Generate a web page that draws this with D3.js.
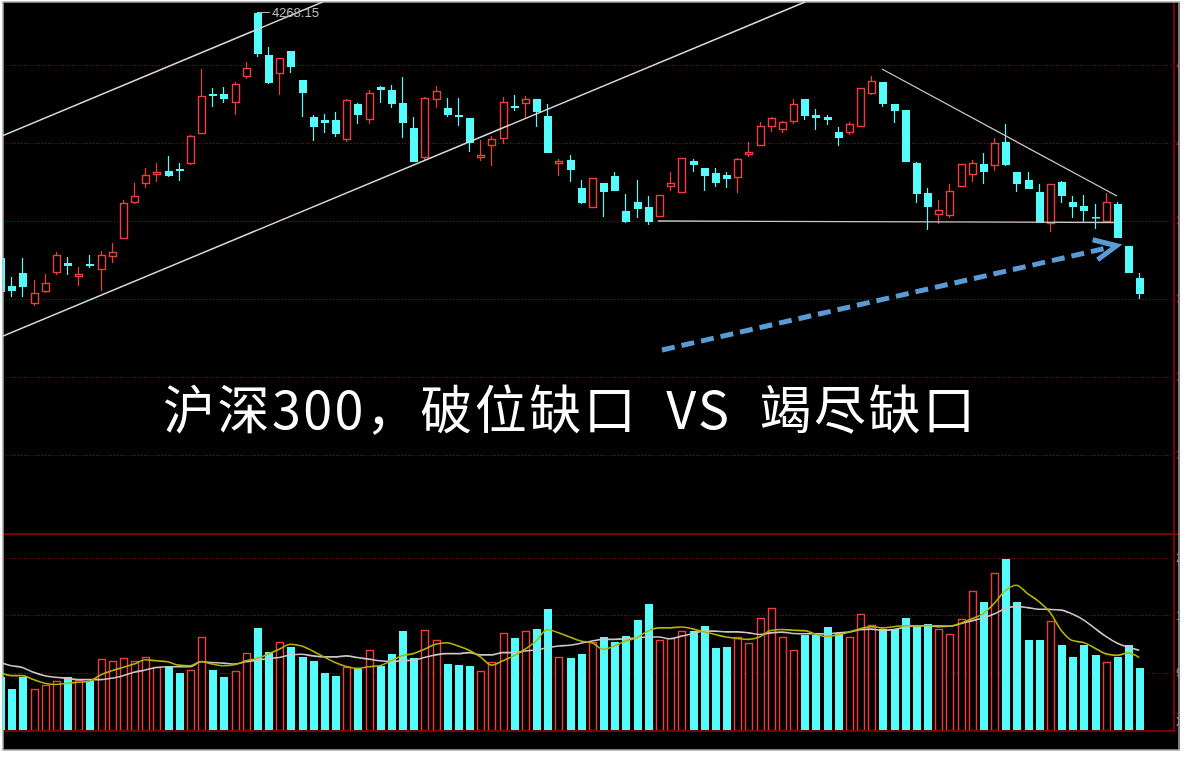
<!DOCTYPE html>
<html><head><meta charset="utf-8">
<script src="https://cdn.jsdelivr.net/npm/d3@7"></script>
<style>html,body{margin:0;padding:0;background:#fff;} svg{display:block}</style>
</head><body>
<svg id="c" width="1188" height="757"></svg>
<script>
// ---------- DATA ----------
const opens = [3905.4,3864.1,3883.3,3839.1,3856.7,3884.8,3898.0,3878.9,3896.6,3889.2,
3908.4,3934.9,3988.0,4016.0,4030.0,4033.7,4036.6,4045.5,4089.7,4147.2,
4147.2,4135.4,4173.7,4266.6,4204.7,4178.2,4210.6,4167.9,4113.3,4108.9,
4108.9,4080.9,4132.5,4110.3,4157.5,4153.1,4133.9,4097.1,4054.3,4139.8,
4126.6,4116.2,4111.8,4054.3,4072.0,4082.3,4129.5,4133.9,4139.8,4114.8,
4045.5,4049.9,4008.6,3980.6,4016.0,4026.3,3974.7,3988.0,3980.6,3967.3,
4011.6,4002.7,4048.4,4038.1,4030.7,4027.8,4024.8,4058.7,4072.0,4100.0,
4095.6,4107.4,4139.8,4116.2,4113.3,4091.2,4091.2,4100.0,4148.7,4164.9,
4132.5,4123.6,4045.5,4001.3,3970.3,3968.8,4011.6,4029.3,4044.0,4042.5,
4076.4,4032.2,4020.4,4002.7,3957.0,4017.5,3988.0,3982.1,3965.9,3960.0,
3985.0,3923.1,3875.9];
const highs = [3909.8,3877.4,3905.4,3873.0,3881.8,3914.3,3906.9,3892.1,3909.8,3915.7,
3927.5,3990.9,4016.0,4038.1,4045.5,4055.8,4045.5,4086.8,4184.1,4156.1,
4157.5,4164.9,4194.4,4268.15,4216.5,4200.3,4210.6,4167.9,4116.2,4117.7,
4120.7,4139.8,4133.9,4153.1,4159.0,4160.5,4172.3,4113.3,4142.8,4159.0,
4141.3,4141.3,4111.8,4079.4,4085.3,4142.8,4145.7,4144.3,4139.8,4132.5,
4051.4,4057.3,4020.4,4023.4,4016.0,4032.2,3999.8,4020.4,3996.8,3998.3,
4032.2,4052.8,4051.4,4038.1,4038.1,4032.2,4052.8,4076.4,4105.9,4113.3,
4107.4,4139.8,4139.8,4125.1,4116.2,4098.6,4105.9,4156.1,4173.7,4164.9,
4132.5,4123.6,4046.9,4008.6,3990.9,4014.5,4044.0,4049.9,4060.2,4082.3,
4103.0,4032.2,4032.2,4014.5,4014.5,4018.9,3996.8,3998.3,3985.0,4001.3,
3988.0,3923.1,3883.3];
const lows = [3850.9,3847.9,3847.9,3834.6,3853.8,3880.3,3880.3,3864.1,3890.7,3856.7,
3898.0,3933.4,3985.0,4008.6,4017.5,4024.8,4018.9,4042.5,4089.7,4128.0,
4133.9,4116.2,4169.3,4201.8,4162.0,4145.7,4178.2,4113.3,4077.9,4089.7,
4083.8,4076.4,4103.0,4103.0,4133.9,4126.6,4082.3,4046.9,4049.9,4126.6,
4113.3,4100.0,4061.7,4048.4,4041.0,4073.5,4122.1,4111.8,4098.6,4060.2,
4026.3,4017.5,3985.0,3980.6,3965.9,4004.2,3957.0,3964.4,3954.1,3967.3,
4004.2,4002.7,4032.2,4004.2,4010.1,4008.6,4001.3,4054.3,4070.5,4091.2,
4089.7,4103.0,4108.9,4094.1,4101.5,4070.5,4086.8,4100.0,4145.7,4128.0,
4104.4,4046.9,3986.5,3946.7,3955.5,3964.4,4011.6,4017.5,4014.5,4033.7,
4041.0,4002.7,4007.2,3957.0,3943.7,3986.5,3964.4,3958.5,3948.2,3960.0,
3934.9,3883.3,3845.0];
const closes = [3855.3,3856.7,3862.7,3853.8,3868.5,3909.8,3893.6,3881.8,3893.6,3909.8,
3914.3,3986.5,3996.8,4027.8,4032.2,4026.3,4033.7,4085.3,4144.3,4144.3,
4139.8,4162.0,4185.5,4206.2,4163.4,4200.3,4187.0,4148.7,4098.6,4104.4,
4088.2,4138.4,4116.2,4148.7,4153.1,4132.5,4104.4,4046.9,4141.3,4151.6,
4116.2,4113.3,4075.0,4057.3,4080.9,4135.4,4126.6,4139.8,4120.7,4060.2,
4048.4,4035.1,3986.5,4023.4,4002.7,4004.2,3958.5,3977.7,3958.5,3998.3,
4016.0,4052.8,4042.5,4026.3,4016.0,4021.9,4051.4,4061.7,4100.0,4111.8,
4105.9,4132.5,4114.8,4111.8,4108.9,4082.3,4103.0,4156.1,4166.4,4132.5,
4122.1,4046.9,3999.8,3980.6,3976.2,4004.2,4044.0,4045.5,4032.2,4075.0,
4042.5,4014.5,4007.2,3957.0,4014.5,3996.8,3980.6,3974.7,3964.4,3988.0,
3934.9,3883.3,3852.3];
const volumes = [827,647,827,647,714,765,838,787,776,1122,
1086,1137,1086,1148,993,993,895,942,1459,942,
827,931,1206,1603,1226,1381,1308,1148,1086,895,
843,993,957,1257,1009,1190,1552,1137,1567,1412,
1035,1013,998,920,1075,1516,1448,1552,1587,1898,
1148,1137,1199,1381,1459,1381,1474,1722,1982,1412,
1438,1552,1552,1640,1293,1308,1459,1361,1758,1913,
1459,1257,1490,1490,1618,1525,1459,1826,1645,1587,
1587,1758,1640,1671,1587,1500,1743,2188,2002,2472,
2680,2002,1412,1412,1707,1330,1153,1330,1175,1060,
1153,1334,967];
const volMA5 = [905,853,853,791,734,714,734,749,765,864,
931,982,1035,1102,1086,1071,1019,1009,1075,1035,
1009,1024,1086,1122,1190,1268,1345,1319,1241,1148,
1060,998,967,993,1009,1086,1164,1199,1268,1345,
1370,1319,1252,1148,1019,1086,1164,1268,1397,1578,
1525,1459,1397,1370,1268,1319,1397,1448,1552,1603,
1603,1618,1587,1541,1500,1459,1438,1423,1459,1563,
1578,1567,1560,1505,1466,1497,1536,1590,1622,1603,
1622,1637,1634,1640,1636,1632,1676,1746,1823,1986,
2188,2273,2141,2017,1847,1567,1404,1373,1288,1195,
1172,1210,1137];
const volMA10 = [1060,1009,982,905,853,827,812,791,791,791,
812,853,905,942,982,993,993,993,1071,1060,
1050,1035,1071,1097,1122,1137,1179,1190,1164,1148,
1148,1164,1137,1113,1086,1075,1086,1097,1137,1179,
1199,1199,1215,1179,1179,1215,1215,1241,1257,1293,
1319,1330,1361,1397,1423,1423,1432,1448,1459,1459,
1432,1474,1510,1552,1552,1541,1541,1525,1500,1525,
1536,1516,1510,1510,1508,1525,1539,1573,1584,1563,
1575,1614,1634,1636,1623,1628,1667,1713,1757,1820,
1904,1940,1921,1896,1893,1882,1820,1729,1598,1469,
1365,1299,1252];
const priceTicks = [4190, 4075, 3960, 3845, 3730, 3615];
const volTicks = [900, 1800, 2700];
const peakLabel = "4268.15";
const peakIndex = 23;
const titleText = "沪深300，破位缺口 VS 竭尽缺口";
// trend lines as [index, price] pairs
const channelUpper = [[0.27, 4085.9], [28.92, 4283.1]];
const channelLower = [[0.27, 3790.4], [72.07, 4282.9]];
const triangleTop = [[78.96, 4184.1], [100.0, 3996.8]];
const supportLine = [[58.9, 3960.0], [99.9, 3957.8]];
const arrowPath = [[59.27, 3769.8], [99.97, 3923.5]];

// ---------- SETUP ----------
const svg = d3.select('#c');
const L = 3, R = 1173, T = 2, PB = 533, VT = 534, VB = 730, B = 750;
const n = opens.length;
const xs = d3.scaleLinear().domain([0, 102]).range([0, 1139.3]);
const ys = d3.scaleLinear().domain([3615, 4190]).range([455, 65]);
const vs = d3.scaleLinear().domain([0, 2700]).range([730, 558]);
const RED = '#f03c3c', CYAN = '#54fcfc', GRID = '#9a0000', SOLID = '#7a0000';

svg.append('rect').attr('x', 0).attr('y', 0).attr('width', 1188).attr('height', 757).attr('fill', '#fff');
svg.append('rect').attr('x', L).attr('y', T).attr('width', 1180 - L).attr('height', B - T).attr('fill', '#000');

const defs = svg.append('defs');
defs.append('clipPath').attr('id', 'pclip').append('rect').attr('x', L).attr('y', T).attr('width', R - L).attr('height', PB - T);
defs.append('clipPath').attr('id', 'vclip').append('rect').attr('x', L).attr('y', VT).attr('width', R - L).attr('height', VB - VT);
defs.append('clipPath').attr('id', 'aclip').append('rect').attr('x', R).attr('y', T).attr('width', 1179 - R).attr('height', B - T);

// gridlines via axes
const pg = svg.append('g').attr('transform', `translate(${L},0)`)
  .call(d3.axisRight(ys).tickValues(priceTicks).tickSize(R - L).tickFormat(''));
pg.select('.domain').remove();
pg.selectAll('line').attr('stroke', GRID).attr('stroke-dasharray', '1,2').attr('shape-rendering', 'crispEdges');
const vg = svg.append('g').attr('transform', `translate(${L},0)`)
  .call(d3.axisRight(vs).tickValues(volTicks).tickSize(R - L).tickFormat(''));
vg.select('.domain').remove();
vg.selectAll('line').attr('stroke', GRID).attr('stroke-dasharray', '1,2').attr('shape-rendering', 'crispEdges');

// solid frame lines
const fr = svg.append('g').attr('shape-rendering', 'crispEdges');
fr.append('line').attr('x1', L).attr('x2', 1180).attr('y1', PB + 0.5).attr('y2', PB + 0.5).attr('stroke', SOLID).attr('stroke-width', 2);
fr.append('line').attr('x1', L).attr('x2', R).attr('y1', VB + 0.5).attr('y2', VB + 0.5).attr('stroke', SOLID).attr('stroke-width', 2);
fr.append('line').attr('x1', R + 0.5).attr('x2', R + 0.5).attr('y1', T).attr('y2', VB + 2).attr('stroke', SOLID).attr('stroke-width', 2);

// right axis labels (narrow strip, clipped like the reference)
const ag = svg.append('g').attr('clip-path', 'url(#aclip)');
const pa = ag.append('g').attr('transform', `translate(${R},0)`)
  .call(d3.axisRight(ys).tickValues(priceTicks).tickSize(0).tickPadding(3).tickFormat(d3.format('.0f')));
pa.select('.domain').remove();
pa.selectAll('text').attr('fill', '#b02020').attr('font-family', 'Liberation Sans, Arial').attr('font-size', 12);
const va = ag.append('g').attr('transform', `translate(${R},0)`)
  .call(d3.axisRight(vs).tickValues(volTicks).tickSize(0).tickPadding(3).tickFormat(d3.format('.0f')));
va.select('.domain').remove();
va.selectAll('text').attr('fill', '#8a8aa0').attr('font-family', 'Liberation Sans, Arial').attr('font-size', 12);
ag.append('rect').attr('x', R + 1).attr('y', 713).attr('width', 12).attr('height', 17).attr('fill', 'none').attr('stroke', SOLID);
ag.append('text').attr('x', R + 3).attr('y', 726).attr('fill', '#a0a0a0').attr('font-family', 'Liberation Sans, Arial').attr('font-size', 12).text('X10');

// outer border gray
const bd = svg.append('g').attr('fill', 'none').attr('stroke', '#a8a8a8').attr('stroke-width', 1.5);
bd.append('rect').attr('x', L).attr('y', T).attr('width', 1179 - L).attr('height', B - T);

// ---------- CANDLES ----------
const idx = d3.range(n);
const up = i => closes[i] >= opens[i];
const cg = svg.append('g').attr('clip-path', 'url(#pclip)');
idx.forEach(i => {
  const c = Math.round(xs(i));          // integer pixel column of candle center
  const col = up(i) ? RED : CYAN;
  const top = Math.round(ys(Math.max(opens[i], closes[i])));
  const bot = Math.round(ys(Math.min(opens[i], closes[i])));
  cg.append('line').attr('x1', c + 0.5).attr('x2', c + 0.5)
    .attr('y1', Math.round(ys(highs[i]))).attr('y2', Math.round(ys(lows[i])))
    .attr('stroke', col).attr('stroke-width', 1.2);
  if (up(i)) {
    cg.append('rect').attr('x', c - 3 + 0.5).attr('y', top + 0.5).attr('width', 7).attr('height', Math.max(1, bot - top))
      .attr('fill', '#000').attr('stroke', col).attr('stroke-width', 1.4);
  } else {
    cg.append('rect').attr('x', c - 3).attr('y', top).attr('width', 8).attr('height', Math.max(1.5, bot - top)).attr('fill', col);
  }
});

// ---------- VOLUME ----------
const vgBars = svg.append('g').attr('clip-path', 'url(#vclip)');
idx.forEach(i => {
  const c = Math.round(xs(i));
  const y = Math.round(vs(volumes[i]));
  if (up(i)) {
    vgBars.append('rect').attr('x', c - 3 + 0.5).attr('y', y + 0.5).attr('width', 7).attr('height', VB - y)
      .attr('fill', '#000').attr('stroke', RED).attr('stroke-width', 1.4);
  } else {
    vgBars.append('rect').attr('x', c - 3).attr('y', y).attr('width', 8).attr('height', VB - y).attr('fill', CYAN);
  }
});
const maLine = d3.line().x((d, i) => xs(i)).y(d => vs(d)).curve(d3.curveMonotoneX);
const mg = svg.append('g').attr('clip-path', 'url(#vclip)').attr('fill', 'none');
mg.append('path').datum(volMA10).attr('d', maLine).attr('stroke', '#c8c8c8').attr('stroke-width', 1.6);
mg.append('path').datum(volMA5).attr('d', maLine).attr('stroke', '#b4b400').attr('stroke-width', 1.6);

// ---------- TREND LINES ----------
const tl = d3.line().x(d => xs(d[0])).y(d => ys(d[1]));
const tg = svg.append('g').attr('clip-path', 'url(#pclip)').attr('fill', 'none');
[channelUpper, channelLower].forEach(l => tg.append('path').datum(l).attr('d', tl).attr('stroke', '#d8d8d8').attr('stroke-width', 1.5));
[triangleTop, supportLine].forEach(l => tg.append('path').datum(l).attr('d', tl).attr('stroke', '#c8c8c8').attr('stroke-width', 1.3));

// peak label
const px = xs(peakIndex), py = ys(highs[peakIndex]);
svg.append('line').attr('x1', px + 1).attr('x2', px + 13).attr('y1', py + 0.5).attr('y2', py + 0.5).attr('stroke', '#b8b8b8').attr('stroke-width', 1);
svg.append('text').attr('x', px + 15).attr('y', py + 5).attr('fill', '#b8b8b8').attr('font-family', 'Liberation Sans, Arial').attr('font-size', 13).text(peakLabel);

// blue dashed arrow
const ax1 = xs(arrowPath[1][0]), ay1 = ys(arrowPath[1][1]);
svg.append('path').datum(arrowPath).attr('d', tl).attr('fill', 'none').attr('stroke', '#5b9bd5').attr('stroke-width', 5).attr('stroke-dasharray', '13,7');
svg.append('path').attr('d', `M${ax1 - 24},${ay1 - 6}L${ax1},${ay1}L${ax1 - 19},${ay1 + 14}`)
  .attr('fill', 'none').attr('stroke', '#5b9bd5').attr('stroke-width', 5).attr('stroke-linejoin', 'miter');

// title
svg.append('text').attr('x', 163).attr('y', 429).attr('fill', '#fff')
  .attr('font-family', 'Noto Sans CJK SC').attr('font-size', 52).attr('word-spacing', 14)
  .attr('textLength', 812).attr('lengthAdjust', 'spacing').text(titleText);
</script>
</body></html>
